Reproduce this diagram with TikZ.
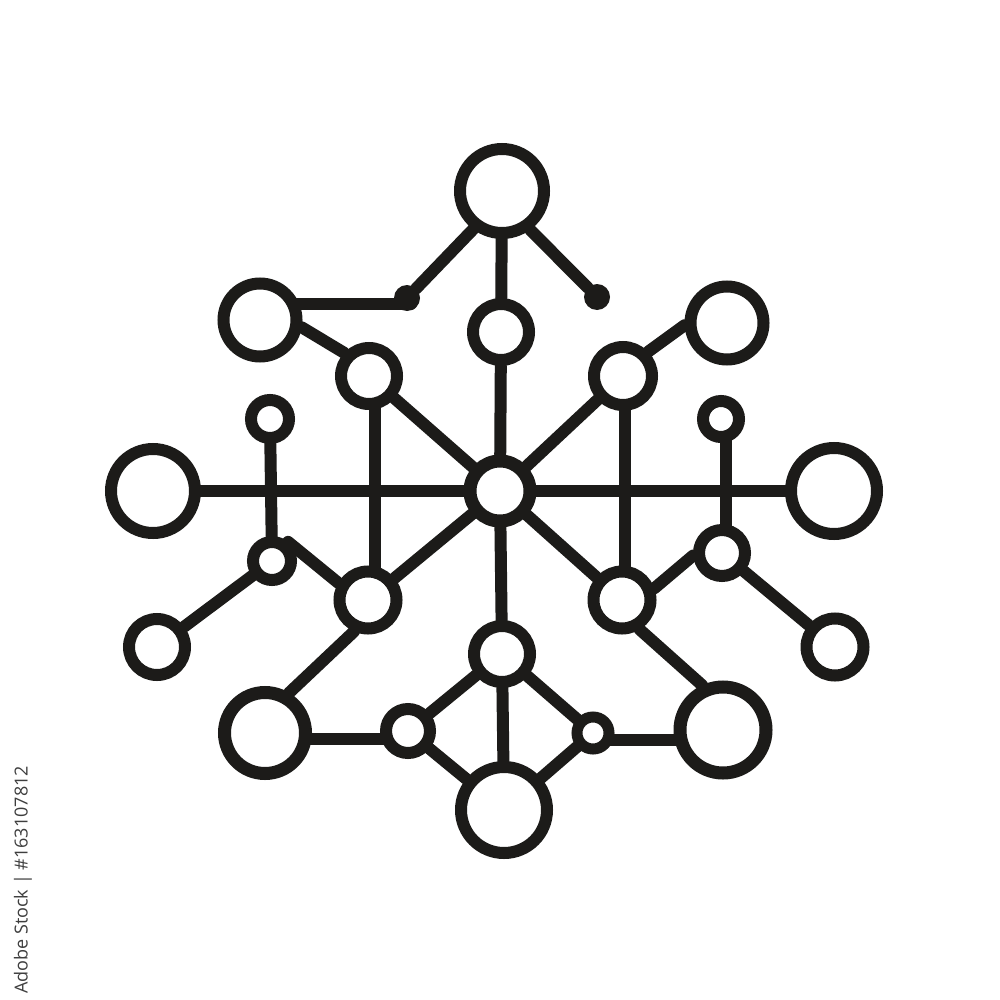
\documentclass[tikz,border=0pt]{standalone}
\usepackage{fontspec}
\newfontfamily\wmfont{Open Sans}
\usetikzlibrary{backgrounds}
\definecolor{ink}{RGB}{28,27,25}
\definecolor{wmgray}{RGB}{62,62,62}
\begin{document}
\begin{tikzpicture}[x=1pt,y=-1pt,
  ring/.style={circle,draw=ink,fill=white,line width=12pt,inner sep=0pt,minimum size=#1},
  blob/.style={circle,fill=ink,inner sep=0pt,minimum size=#1},
  wire/.style={draw=ink,line width=12pt,line cap=round}]
\useasboundingbox (0,0) rectangle (1000,1000);
% circles
\node[ring=84pt] (A) at (502,191) {};
\node[ring=73pt] (B) at (260,320) {};
\node[ring=56pt] (C) at (501,332) {};
\node[ring=56pt] (D) at (369,376) {};
\node[ring=58pt] (E) at (623,376) {};
\node[ring=73pt] (F) at (727,323) {};
\node[ring=60pt,line width=13pt] (G) at (500,491) {};
\node[ring=84pt] (H) at (153,491) {};
\node[ring=86pt] (I) at (834,491) {};
\node[ring=38pt] (J) at (270,419) {};
\node[ring=36pt] (K) at (721,419) {};
\node[ring=38pt] (L) at (272,561) {};
\node[ring=46pt] (M) at (722,553) {};
\node[ring=57pt] (N) at (368,600) {};
\node[ring=57pt] (O) at (622,600) {};
\node[ring=56pt] (P) at (157,647) {};
\node[ring=57pt] (Q) at (835,647) {};
\node[ring=56pt] (R) at (502,654) {};
\node[ring=81pt,line width=13pt] (S) at (265,733) {};
\node[ring=86pt,line width=13pt] (T) at (723,730) {};
\node[ring=44pt] (U) at (408,731) {};
\node[ring=32pt,line width=11pt] (V) at (593,733) {};
\node[ring=86pt] (W) at (504,810) {};
\node[blob=26pt] (d1) at (407,298) {};
\node[blob=26pt] (d2) at (597,297) {};
\coordinate (d1e) at (411,304);
% watermark text
\node[rotate=90,text=wmgray,font=\wmfont\fontsize{18}{18}\selectfont,inner sep=0pt] (wm) at (23,880) {Adobe Stock | \#163107812};
% connectors
\begin{scope}[on background layer]
\fill[white] (0,0) rectangle (1000,1000);
\draw[wire] (d1) -- (A.-127);
\draw[wire] (d2) -- (A.-54);
\draw[wire] (A) -- (C);
\draw[wire] (B.center |- d1e) -- (d1e);
\draw[wire] (B.-10) -- (D.137);
\draw[wire] (C) -- (G);
\draw[wire] (D) -- (G);
\draw[wire] (E) -- (G);
\draw[wire] (E.44) -- (F.-177);
\draw[wire] ([xshift=6pt]D.center) -- ([xshift=7pt]N.center);
\draw[wire] ([xshift=2pt]E.center) -- ([xshift=3pt]O.center);
\draw[wire] (H) -- (I);
\draw[wire] (J) -- (L);
\draw[wire] ([xshift=5pt]K.center) -- ([xshift=4pt]M.center);
\draw[wire] (P) -- (L);
\draw[wire] (L.50) -- (N.150);
\draw[wire] (M) -- (Q);
\draw[wire] (O.20) -- (M.-175);
\draw[wire] (G) -- (N);
\draw[wire] (G) -- (O);
\draw[wire] (G) -- (R);
\draw[wire] (R) -- (W);
\draw[wire] (N.-114) -- (S.59);
\draw[wire] (O.-59) -- (T.115);
\draw[wire] ([yshift=-6pt]S.center) -- ([yshift=-8pt]U.center);
\draw[wire] (U) -- (R);
\draw[wire] (U) -- (W);
\draw[wire] (V) -- (R);
\draw[wire] (V) -- (W);
\draw[wire] ([yshift=-7pt]V.center) -- ([yshift=-10pt]T.center);
\end{scope}
\end{tikzpicture}
\end{document}
